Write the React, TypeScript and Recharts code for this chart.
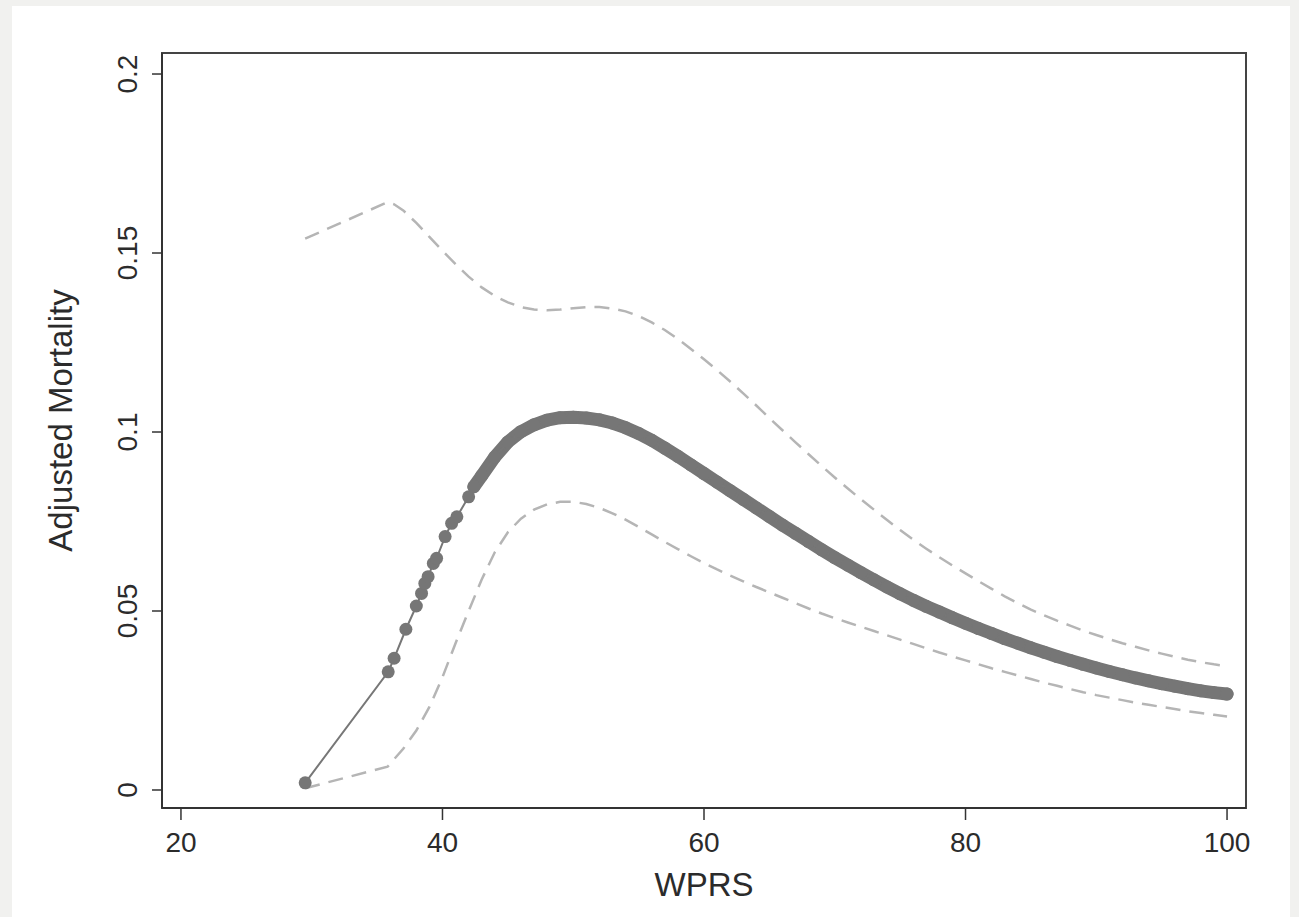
import React from 'react';
import { ComposedChart, Line, XAxis, YAxis, ReferenceArea, Label } from 'recharts';

// WPRS values at which fitted mortality is plotted (observed points)
const mainX = [
  29.5, 35.85, 36.3, 37.2, 38.0, 38.4, 38.65, 38.9, 39.3, 39.55, 40.2, 40.7, 41.1, 42.0,
  42.4, 43, 44, 45, 46, 47, 48, 49, 50, 51, 52, 53, 54, 55, 56, 57, 58, 59, 60, 61, 62, 63,
  64, 65, 66, 67, 68, 69, 70, 71, 72, 73, 74, 75, 76, 77, 78, 79, 80, 81, 82, 83, 84, 85,
  86, 87, 88, 89, 90, 91, 92, 93, 94, 95, 96, 97, 98, 99, 100,
];

// Adjusted mortality (fitted)
const mainY = [
  0.002, 0.033, 0.0368, 0.0449, 0.0514, 0.0549, 0.0577, 0.0596, 0.0633, 0.0647, 0.0708, 0.0745, 0.0763, 0.0819,
  0.0847, 0.0878, 0.093, 0.0972, 0.1001, 0.102, 0.1033, 0.104, 0.1041, 0.1039, 0.1034, 0.1025, 0.1012, 0.0996, 0.0977, 0.0955, 0.0932, 0.0908, 0.0884, 0.086, 0.0836, 0.0812,
  0.0788, 0.0764, 0.074, 0.0717, 0.0694, 0.0671, 0.0649, 0.0628, 0.0607, 0.0587, 0.0567, 0.0548, 0.053, 0.0513, 0.0497, 0.0481, 0.0466, 0.0451, 0.0437, 0.0423, 0.041, 0.0397,
  0.0385, 0.0373, 0.0362, 0.0351, 0.0341, 0.0331, 0.0322, 0.0313, 0.0305, 0.0297, 0.029, 0.0283, 0.0277, 0.0272, 0.0268,
];

// Confidence band
const ciX = [
  29.5, 35.8, 36.3, 37, 38, 39, 40, 41, 42, 43, 44, 45, 46, 47, 48, 49, 50, 51, 52, 53, 54,
  55, 56, 57, 58, 59, 60, 61, 62, 63, 64, 65, 66, 67, 68, 69, 70, 71, 72, 73, 74, 75, 76, 77,
  78, 79, 80, 81, 82, 83, 84, 85, 86, 87, 88, 89, 90, 91, 92, 93, 94, 95, 96, 97, 98, 99, 100,
];

const ciUpper = [
  0.154, 0.1642, 0.1636, 0.1619, 0.1584, 0.1545, 0.1506, 0.1469, 0.1434, 0.1404, 0.138, 0.1362, 0.1349, 0.1342, 0.134, 0.1342, 0.1346, 0.1349, 0.1349, 0.1345, 0.1337,
  0.1324, 0.1306, 0.1285, 0.126, 0.1232, 0.1203, 0.1173, 0.1141, 0.1108, 0.1074, 0.1039, 0.1005, 0.0971, 0.0938, 0.0905, 0.0873, 0.0842, 0.0812, 0.0783, 0.0754, 0.0726, 0.0699, 0.0674,
  0.065, 0.0627, 0.0605, 0.0583, 0.0562, 0.0541, 0.0522, 0.0504, 0.0488, 0.0473, 0.0459, 0.0445, 0.0433, 0.0421, 0.041, 0.04, 0.039, 0.0381, 0.0372, 0.0364, 0.0357, 0.0351, 0.0346,
];

const ciLower = [
  0.0005, 0.0065, 0.0086, 0.0115, 0.0166, 0.0232, 0.0315, 0.041, 0.05, 0.0588, 0.0664, 0.072, 0.0758, 0.0783, 0.0798, 0.0805, 0.0805, 0.0799, 0.0788, 0.0773, 0.0755,
  0.0735, 0.0714, 0.0693, 0.0673, 0.0653, 0.0634, 0.0616, 0.0599, 0.0583, 0.0567, 0.0552, 0.0537, 0.0522, 0.0507, 0.0493, 0.048, 0.0468, 0.0456, 0.0444, 0.0432, 0.042, 0.0408, 0.0396,
  0.0384, 0.0373, 0.0362, 0.0351, 0.034, 0.033, 0.032, 0.031, 0.03, 0.0291, 0.0282, 0.0273, 0.0265, 0.0258, 0.0251, 0.0244, 0.0238, 0.0232, 0.0226, 0.022, 0.0215, 0.021, 0.0205,
];

const xTicks = [20, 40, 60, 80, 100];
const yTicks = [0, 0.05, 0.1, 0.15, 0.2];
const yTickLabels = ['0', '0.05', '0.1', '0.15', '0.2'];
const xDomain: [number, number] = [18.55, 101.45];
const yDomain: [number, number] = [-0.00503, 0.20587];
const denseFrom = 42.4;

const mainData = mainX.map((x, i) => ({ x, y: mainY[i] }));
const denseData = mainData.filter((d) => d.x >= denseFrom);
const ciData = ciX.map((x, i) => ({ x, lo: ciLower[i], hi: ciUpper[i] }));

const FONT = '"Liberation Sans", Arial, Helvetica, sans-serif';
const TEXT = '#2b2b2b';
const MARK = '#767676';

const XTick = (props: any) => {
  const { x, y, payload } = props;
  return (
    <text x={x} y={y + 30} textAnchor="middle" fontFamily={FONT} fontSize={28} fill={TEXT}>
      {payload.value}
    </text>
  );
};

const YTick = (props: any) => {
  const { x, y, payload } = props;
  const idx = yTicks.indexOf(payload.value);
  const label = idx >= 0 ? yTickLabels[idx] : String(payload.value);
  return (
    <text
      x={x}
      y={y}
      transform={`rotate(-90, ${x}, ${y})`}
      textAnchor="middle"
      fontFamily={FONT}
      fontSize={28}
      fill={TEXT}
    >
      {label}
    </text>
  );
};

export default function App() {
  return (
    <div style={{ position: 'absolute', left: 0, top: 0, width: 1299, height: 917, background: '#f1f1ef', overflow: 'hidden' }}>
      <div style={{ position: 'absolute', left: 12, top: 6, width: 1278, height: 911, background: '#ffffff' }} />
      <div style={{ position: 'absolute', left: 0, top: 0 }}>
        <ComposedChart width={1299} height={917} margin={{ top: 53, right: 53, bottom: 49, left: 62 }}>
          <XAxis
            type="number"
            dataKey="x"
            domain={xDomain}
            ticks={xTicks}
            allowDataOverflow
            axisLine={{ stroke: '#333', strokeWidth: 2 }}
            tickLine={{ stroke: '#333', strokeWidth: 1.5 }}
            tickSize={12}
            tickMargin={2}
            tick={<XTick />}
            height={60}
          >
            <Label
              content={(p: any) => {
                const vb = p.viewBox;
                return (
                  <text x={vb.x + vb.width / 2} y={vb.y + 88} textAnchor="middle" fontFamily={FONT} fontSize={33} fill={TEXT}>
                    WPRS
                  </text>
                );
              }}
            />
          </XAxis>
          <YAxis
            type="number"
            domain={yDomain}
            ticks={yTicks}
            allowDataOverflow
            axisLine={{ stroke: '#333', strokeWidth: 2 }}
            tickLine={{ stroke: '#333', strokeWidth: 1.5 }}
            tickSize={10}
            tickMargin={15}
            tick={<YTick />}
            width={100}
          >
            <Label
              content={(p: any) => {
                const vb = p.viewBox;
                const cx = vb.x + 10;
                const cy = vb.y + vb.height / 2 - 10;
                return (
                  <text x={cx} y={cy} transform={`rotate(-90, ${cx}, ${cy})`} textAnchor="middle" fontFamily={FONT} fontSize={33} fill={TEXT}>
                    Adjusted Mortality
                  </text>
                );
              }}
            />
          </YAxis>
          <ReferenceArea
            x1={xDomain[0]}
            x2={xDomain[1]}
            y1={yDomain[0]}
            y2={yDomain[1]}
            fill="none"
            fillOpacity={0}
            stroke="#444"
            strokeWidth={2}
            ifOverflow="visible"
          />
          <Line
            data={ciData}
            dataKey="hi"
            type="linear"
            stroke="#b5b5b5"
            strokeWidth={2.5}
            strokeDasharray="15 9"
            dot={false}
            activeDot={false}
            isAnimationActive={false}
          />
          <Line
            data={ciData}
            dataKey="lo"
            type="linear"
            stroke="#b5b5b5"
            strokeWidth={2.5}
            strokeDasharray="15 9"
            dot={false}
            activeDot={false}
            isAnimationActive={false}
          />
          <Line
            data={denseData}
            dataKey="y"
            type="linear"
            stroke={MARK}
            strokeWidth={13}
            strokeLinecap="round"
            strokeLinejoin="round"
            dot={false}
            activeDot={false}
            isAnimationActive={false}
          />
          <Line
            data={mainData}
            dataKey="y"
            type="linear"
            stroke="#777777"
            strokeWidth={2}
            dot={{ r: 6.5, fill: MARK, stroke: 'none', strokeWidth: 0 }}
            activeDot={false}
            isAnimationActive={false}
          />
        </ComposedChart>
      </div>
    </div>
  );
}
